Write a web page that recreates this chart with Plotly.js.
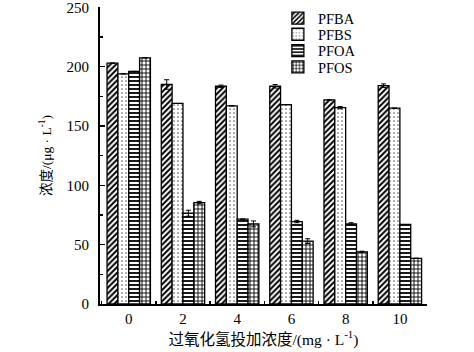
<!DOCTYPE html>
<html>
<head>
<meta charset="utf-8">
<script src="https://cdn.plot.ly/plotly-3.0.1.min.js"></script>
<style>html,body{margin:0;padding:0;background:#fff;}#chart{width:474px;height:352px;}</style>
</head>
<body>
<div id="chart"></div>
<script>
const categories = ['0', '2', '4', '6', '8', '10'];
const seriesNames = ['PFBA', 'PFBS', 'PFOA', 'PFOS'];
const pfba = [203, 185, 183.5, 183.5, 172, 184];
const pfbs = [194, 169, 167, 168, 165.5, 165];
const pfoa = [196, 76.5, 71.5, 69.5, 67.5, 67];
const pfos = [207.5, 85.5, 67.5, 53, 44, 38.5];
const pfbaErr = [0, 4, 1, 1.5, 0, 1.5];
const pfbsErr = [0, 0, 0, 0, 1, 0];
const pfoaErr = [0, 2.5, 0, 1, 1, 0];
const pfosErr = [0, 1, 2.5, 2, 0.5, 0];
const yTicks = [0, 50, 100, 150, 200, 250];

const values = [pfba, pfbs, pfoa, pfos];
const errs = [pfbaErr, pfbsErr, pfoaErr, pfosErr];
const patterns = [
  {shape: '/', size: 4, solidity: 0.5, fgcolor: '#000', bgcolor: '#fff'},
  {shape: '.', size: 4, solidity: 0.15, fgcolor: '#666', bgcolor: '#fff'},
  {shape: '-', size: 4, solidity: 0.45, fgcolor: '#000', bgcolor: '#fff'},
  {shape: '+', size: 4, solidity: 0.4, fgcolor: '#000', bgcolor: '#fff'}
];
const legendIds = ['legend', 'legend2', 'legend3', 'legend4'];
const legendY = [0.962, 0.908, 0.853, 0.798];

const traces = seriesNames.map((name, i) => ({
  type: 'bar',
  name: name,
  legend: legendIds[i],
  x: categories,
  y: values[i],
  marker: {color: '#fff', line: {color: '#000', width: 1.3}, pattern: patterns[i]},
  error_y: {type: 'data', array: errs[i], visible: true, color: '#000', thickness: 1, width: 2.5}
}));

const serif = '"Liberation Serif", "Times New Roman", serif';
const cjk = '"Liberation Serif", "Noto Sans CJK SC", serif';

const layout = {
  width: 474, height: 352,
  margin: {l: 100, r: 47, t: 7, b: 48, pad: 0, autoexpand: false},
  paper_bgcolor: '#fff', plot_bgcolor: '#fff',
  font: {family: serif, size: 14, color: '#000'},
  barmode: 'group', bargap: 0.2, bargroupgap: 0,
  showlegend: true,
  xaxis: {
    type: 'category', range: [-0.53, 5.5], automargin: false,
    showline: true, linecolor: '#000', linewidth: 2,
    ticks: 'inside', tickson: 'boundaries', ticklen: 3, tickwidth: 1.5, tickcolor: '#000',
    showgrid: false, zeroline: false,
    tickfont: {family: serif, size: 15, color: '#000'},
    ticklabelstandoff: 0,
    title: {text: '过氧化氢投加浓度/(mg · L<sup>-1</sup>)', font: {family: cjk, size: 15.5, color: '#000'}, standoff: 8}
  },
  yaxis: {
    range: [0, 250.3], tickmode: 'array', tickvals: yTicks, ticktext: yTicks.map(String), automargin: false,
    ticklabeloverflow: 'allow',
    showline: true, linecolor: '#000', linewidth: 2,
    ticks: 'inside', ticklen: 5, tickwidth: 1.5, tickcolor: '#000',
    minor: {dtick: 25, tick0: 0, ticks: 'inside', ticklen: 3, tickwidth: 1.2, tickcolor: '#000', showgrid: false},
    showgrid: false, zeroline: false,
    tickfont: {family: serif, size: 15, color: '#000'},
    ticklabelstandoff: 6,
    title: {text: '浓度/(μg · L<sup>-1</sup>)', font: {family: cjk, size: 13.5, color: '#000'}, standoff: 12}
  }
};
legendIds.forEach((id, i) => {
  layout[id] = {x: 0.544, y: legendY[i], xanchor: 'left', yanchor: 'middle', bgcolor: 'rgba(0,0,0,0)',
                font: {family: serif, size: 14.5, color: '#000'}, tracegroupgap: 0};
});

Plotly.newPlot('chart', traces, layout, {displayModeBar: false, staticPlot: true});
</script>
</body>
</html>
